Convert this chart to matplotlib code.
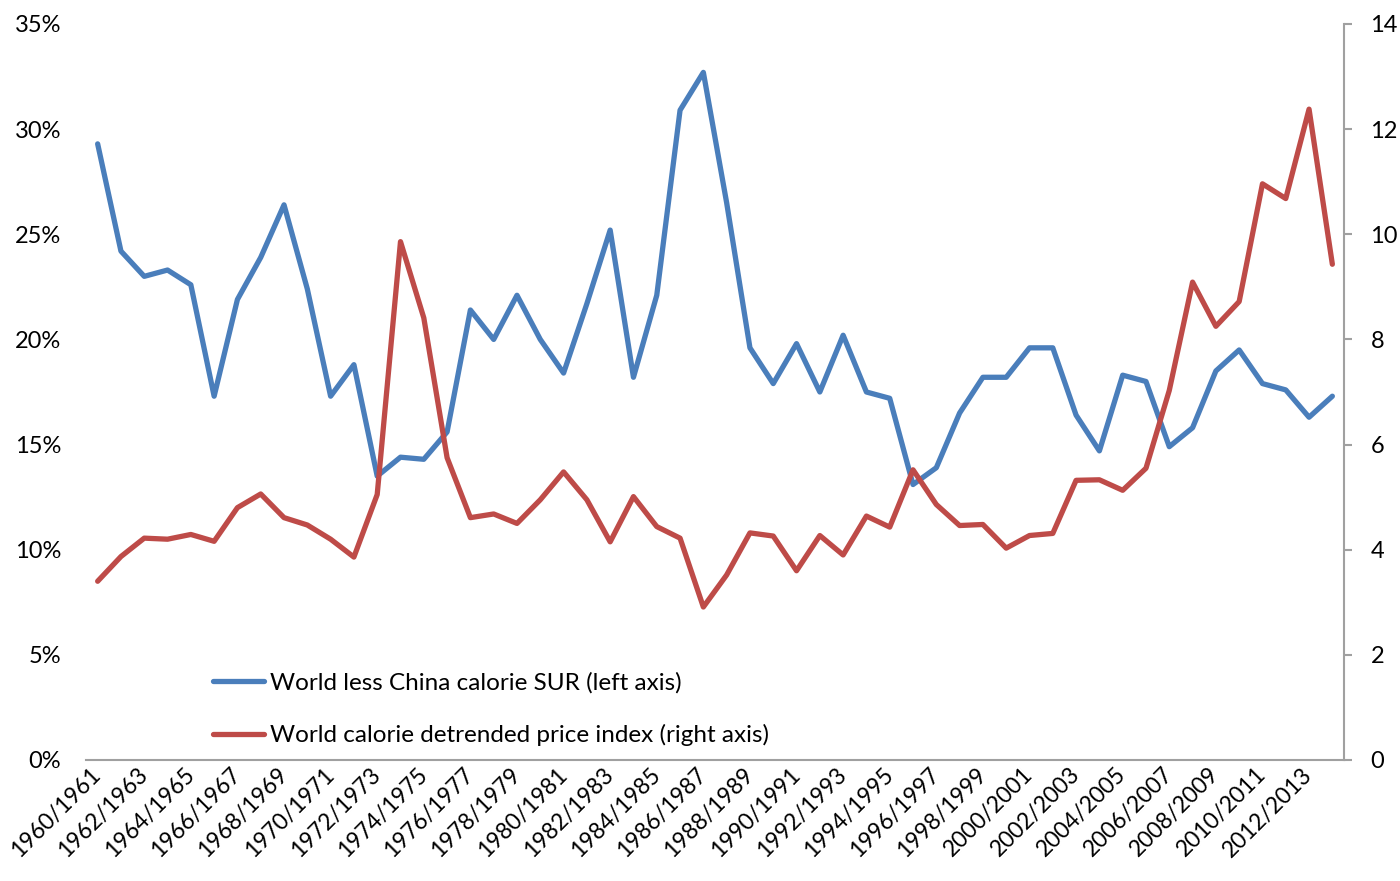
import matplotlib
matplotlib.use("Agg")
import matplotlib.pyplot as plt
from matplotlib.ticker import FuncFormatter, MultipleLocator

# Marketing years 1960/1961 .. 2013/2014
start_years = list(range(1960, 2014))
seasons = [f"{y}/{y + 1}" for y in start_years]

# World less China calorie stocks-to-use ratio (%)
sur_pct = [29.3, 24.2, 23.0, 23.3, 22.6, 17.3, 21.9, 23.9, 26.4, 22.4,
           17.3, 18.8, 13.5, 14.4, 14.3, 15.6, 21.4, 20.0, 22.1, 20.0,
           18.4, 21.7, 25.2, 18.2, 22.1, 30.9, 32.7, 26.5, 19.6, 17.9,
           19.8, 17.5, 20.2, 17.5, 17.2, 13.1, 13.9, 16.5, 18.2, 18.2,
           19.6, 19.6, 16.4, 14.7, 18.3, 18.0, 14.9, 15.8, 18.5, 19.5,
           17.9, 17.6, 16.3, 17.3]

# World calorie detrended price index
price_idx = [3.40, 3.87, 4.22, 4.20, 4.29, 4.16, 4.80, 5.06, 4.61, 4.47,
             4.20, 3.86, 5.05, 9.86, 8.41, 5.75, 4.61, 4.68, 4.50, 4.95,
             5.48, 4.95, 4.15, 5.01, 4.44, 4.22, 2.91, 3.52, 4.32, 4.26,
             3.60, 4.27, 3.90, 4.64, 4.43, 5.52, 4.86, 4.46, 4.48, 4.03,
             4.27, 4.31, 5.32, 5.33, 5.13, 5.55, 7.03, 9.09, 8.25, 8.72,
             10.96, 10.68, 12.38, 9.43]

label_sur = "World less China calorie SUR (left axis)"
label_price = "World calorie detrended price index (right axis)"

BLUE = "#4A7EBB"
RED = "#BE4B48"
GREY = "#A0A0A0"
FONT = "Lato"
FS = 17

plt.rcParams["font.family"] = [FONT, "DejaVu Sans"]

W, H = 1400, 881
fig = plt.figure(figsize=(W / 100, H / 100), dpi=100)
ax = fig.add_axes([86 / W, (H - 760) / H, (1344 - 86) / W, (760 - 24) / H])
ax2 = ax.twinx()

x = list(range(len(seasons)))
l1, = ax.plot(x, sur_pct, color=BLUE, lw=3.8, solid_joinstyle="round",
              solid_capstyle="round", label=label_sur, zorder=3)
l2, = ax2.plot(x, price_idx, color=RED, lw=3.8, solid_joinstyle="round",
               solid_capstyle="round", label=label_price, zorder=3)

ax.set_xlim(-0.5, len(seasons) - 0.5)
ax.set_ylim(0, 35)
ax2.set_ylim(0, 14)

ax.yaxis.set_major_locator(MultipleLocator(5))
ax.yaxis.set_major_formatter(FuncFormatter(lambda v, p: f"{v:.0f}%"))
ax2.yaxis.set_major_locator(MultipleLocator(2))

for a in (ax, ax2):
    for s in a.spines.values():
        s.set_visible(False)
ax.spines["bottom"].set_visible(True)
ax.spines["bottom"].set_color(GREY)
ax.spines["bottom"].set_linewidth(1.5)
ax2.spines["right"].set_visible(True)
ax2.spines["right"].set_color(GREY)
ax2.spines["right"].set_linewidth(1.5)

ax.tick_params(axis="y", length=0, pad=18, labelsize=FS)
ax2.tick_params(axis="y", direction="out", length=6, width=1.5, color=GREY,
                pad=13, labelsize=FS)

ax.set_xticks(x[::2])
ax.set_xticklabels(seasons[::2], rotation=45, ha="right", va="center",
                   rotation_mode="anchor", fontsize=16.5)
ax.tick_params(axis="x", length=0, pad=8)

leg = fig.legend(handles=[l1, l2], loc="upper left",
                 bbox_to_anchor=(203 / W, 1 - 662 / H), frameon=False,
                 fontsize=17.5, handlelength=2.1, handletextpad=0.27,
                 labelspacing=1.27, borderaxespad=0)

fig.savefig("out.png", dpi=100, facecolor="white")
